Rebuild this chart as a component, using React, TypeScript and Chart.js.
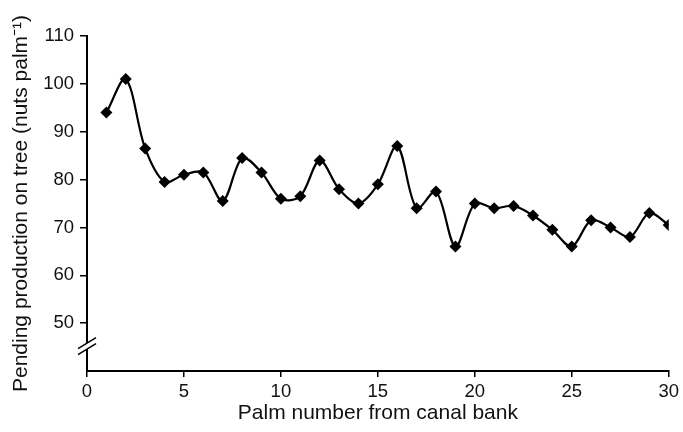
import React, { useEffect, useRef } from "react";
import { Chart, registerables } from "chart.js";

Chart.register(...registerables);

const palmNumbers = [1,2,3,4,5,6,7,8,9,10,11,12,13,14,15,16,17,18,19,20,21,22,23,24,25,26,27,28,29,30];
const pendingProduction = [94,101,86.5,79.5,81,81.5,75.5,84.5,81.5,76,76.5,84,78,75,79,87,74,77.5,66,75,74,74.5,72.5,69.5,66,71.5,70,68,73,70.5];
const xTicks = [0,5,10,15,20,25,30];
const yTicks = [50,60,70,80,90,100,110];

const breakPlugin = {
  id: "axisBreak",
  afterDraw(chart: any) {
    const ctx = chart.ctx;
    const y = chart.scales.y;
    const x0 = chart.chartArea.left;
    const py = y.getPixelForValue(45.5);
    ctx.save();
    ctx.fillStyle = "#fff";
    ctx.beginPath();
    ctx.moveTo(x0 - 9, py + 4);
    ctx.lineTo(x0 + 9, py - 7);
    ctx.lineTo(x0 + 9, py - 1);
    ctx.lineTo(x0 - 9, py + 10);
    ctx.closePath();
    ctx.fill();
    ctx.strokeStyle = "#000";
    ctx.lineWidth = 1.5;
    ctx.beginPath();
    ctx.moveTo(x0 - 9, py + 4);
    ctx.lineTo(x0 + 9, py - 7);
    ctx.moveTo(x0 - 9, py + 10);
    ctx.lineTo(x0 + 9, py - 1);
    ctx.stroke();
    ctx.restore();
  },
};

export default function App() {
  const ref = useRef<HTMLCanvasElement>(null);
  useEffect(() => {
    document.body.style.margin = "0";
    const tickFont = { family: "'Liberation Sans', Arial, sans-serif", size: 18.5 };
    const titleFont = { family: "'Liberation Sans', Arial, sans-serif", size: 21 };
    const chart = new Chart(ref.current!, {
      type: "line",
      data: {
        datasets: [
          {
            data: palmNumbers.map((p, i) => ({ x: p, y: pendingProduction[i] })),
            borderColor: "#000",
            backgroundColor: "#000",
            borderWidth: 2.2,
            pointStyle: "rectRot",
            pointRadius: 6,
            pointBorderWidth: 0,
            tension: 0.32,
            fill: false,
          },
        ],
      },
      options: {
        animation: false,
        responsive: false,
        maintainAspectRatio: false,
        layout: { padding: { top: 36, right: 12, left: 0, bottom: 0 } },
        plugins: { legend: { display: false }, tooltip: { enabled: false } },
        scales: {
          x: {
            type: "linear",
            min: 0,
            max: 30,
            afterBuildTicks: (s: any) => { s.ticks = xTicks.map((v) => ({ value: v })); },
            afterFit: (s: any) => { s.height = 61; },
            ticks: { color: "#111", font: tickFont, padding: 4, maxRotation: 0 },
            grid: { display: true, drawOnChartArea: false, drawTicks: true, tickLength: 6, color: "#000", lineWidth: 1.5 },
            border: { display: true, color: "#000", width: 2 },
            title: { display: true, text: "Palm number from canal bank", color: "#111", font: titleFont, padding: { top: 0, bottom: 6 } },
          },
          y: {
            type: "linear",
            min: 40,
            max: 110,
            afterBuildTicks: (s: any) => { s.ticks = yTicks.map((v) => ({ value: v })); },
            afterFit: (s: any) => { s.width = 87; },
            ticks: { color: "#111", font: tickFont, padding: 6 },
            grid: { display: true, drawOnChartArea: false, drawTicks: true, tickLength: 7, color: "#000", lineWidth: 1.5 },
            border: { display: true, color: "#000", width: 2 },
            title: { display: true, text: "Pending production on tree (nuts palm⁻¹)", color: "#111", font: titleFont, padding: { top: 9, bottom: 0 } },
          },
        },
      },
      plugins: [breakPlugin],
    });
    return () => chart.destroy();
  }, []);
  return <canvas ref={ref} width={683} height={432} style={{ display: "block" }} />;
}
